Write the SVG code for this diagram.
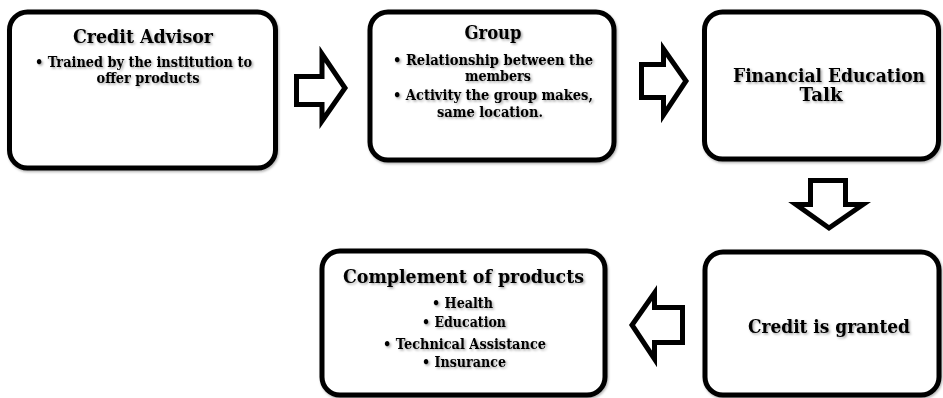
<svg xmlns="http://www.w3.org/2000/svg" width="943" height="398" viewBox="0 0 943 398">
<defs>
<filter id="ts" x="-10%" y="-30%" width="120%" height="160%">
<feDropShadow dx="1.5" dy="1.5" stdDeviation="1" flood-color="#000" flood-opacity="0.35"/>
</filter>
<filter id="bs" x="-5%" y="-5%" width="110%" height="110%">
<feDropShadow dx="1" dy="1.5" stdDeviation="1" flood-color="#000" flood-opacity="0.3"/>
</filter>
</defs>
<style>
.box{fill:#fff;stroke:#000;stroke-width:5;filter:url(#bs)}
.arr{fill:#fff;stroke:#000;stroke-width:5;stroke-linejoin:miter}
text{font-family:"DejaVu Serif","Liberation Serif",serif;font-weight:bold;fill:#000;text-anchor:middle;filter:url(#ts)}
.t{font-size:18px}
.b{font-size:14px}
</style>
<rect width="943" height="398" fill="#fff"/>
<g id="connectors">
<polygon class="arr" points="296.5,76.5 322,76.5 322,54 345,88 322,121 322,104.5 296.5,104.5"/>
<polygon class="arr" points="641.5,64.5 663.5,64.5 663.5,49 686,81 663.5,115 663.5,97.5 641.5,97.5"/>
<polygon class="arr" points="810.5,180.5 845.5,180.5 845.5,204.5 863,204.5 829,228 796,204.5 810.5,204.5"/>
<polygon class="arr" points="682.5,307.5 654.5,307.5 654.5,293 632,325 654.5,359 654.5,342.5 682.5,342.5"/>
</g>
<g id="credit-advisor">
<rect class="box" x="9.5" y="12" width="266" height="156" rx="18"/>
<text class="t" x="143" y="43" textLength="140" lengthAdjust="spacingAndGlyphs">Credit Advisor</text>
<text class="b"><tspan x="143.5" y="67" textLength="217" lengthAdjust="spacingAndGlyphs">• Trained by the institution to</tspan><tspan x="148" y="83" textLength="103" lengthAdjust="spacingAndGlyphs">offer products</tspan></text>
</g>
<g id="group">
<rect class="box" x="370" y="12" width="244" height="148" rx="18"/>
<text class="t" x="493" y="39" textLength="57" lengthAdjust="spacingAndGlyphs">Group</text>
<text class="b"><tspan x="493" y="65" textLength="200" lengthAdjust="spacingAndGlyphs">• Relationship between the</tspan><tspan x="498" y="81" textLength="66" lengthAdjust="spacingAndGlyphs">members</tspan></text>
<text class="b"><tspan x="493" y="100" textLength="200" lengthAdjust="spacingAndGlyphs">• Activity the group makes,</tspan><tspan x="490" y="117" textLength="106" lengthAdjust="spacingAndGlyphs">same location.</tspan></text>
</g>
<g id="financial-education-talk">
<rect class="box" x="704.5" y="12" width="234" height="147" rx="18"/>
<text class="t"><tspan x="829" y="82" textLength="192" lengthAdjust="spacingAndGlyphs">Financial Education</tspan><tspan x="821" y="101" textLength="43" lengthAdjust="spacingAndGlyphs">Talk</tspan></text>
</g>
<g id="credit-granted">
<rect class="box" x="705" y="252" width="234" height="143" rx="18"/>
<text class="t" x="829" y="333" textLength="162" lengthAdjust="spacingAndGlyphs">Credit is granted</text>
</g>
<g id="complement-products">
<rect class="box" x="322" y="251" width="283" height="144" rx="18"/>
<text class="t" x="463.5" y="283" textLength="241" lengthAdjust="spacingAndGlyphs">Complement of products</text>
<text class="b"><tspan x="462.5" y="308" textLength="61" lengthAdjust="spacingAndGlyphs">• Health</tspan><tspan x="464" y="327" textLength="84" lengthAdjust="spacingAndGlyphs">• Education</tspan><tspan x="464.5" y="349" textLength="163" lengthAdjust="spacingAndGlyphs">• Technical Assistance</tspan><tspan x="464" y="367" textLength="84" lengthAdjust="spacingAndGlyphs">• Insurance</tspan></text>
</g>
</svg>
